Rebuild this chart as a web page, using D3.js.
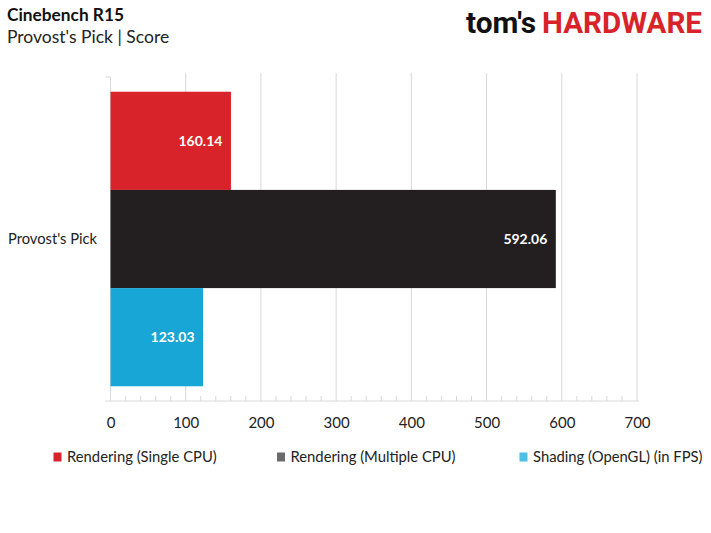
<!DOCTYPE html>
<html>
<head>
<meta charset="utf-8">
<script src="https://cdn.jsdelivr.net/npm/d3@7"></script>
<style>
  body { margin: 0; background: #fff; }
  svg { display: block; font-family: Lato, "Open Sans", sans-serif; }
</style>
</head>
<body>
<div id="chart"></div>
<script>
const categories = ["Provost's Pick"];
const seriesNames = ["Rendering (Single CPU)", "Rendering (Multiple CPU)", "Shading (OpenGL) (in FPS)"];
const seriesValues = [160.14, 592.06, 123.03];
const barColors = ["#d9232a", "#231f20", "#18a6d6"];
const legendColors = ["#d9232a", "#6b6b6b", "#4cbfe6"];
const xTicks = [0, 100, 200, 300, 400, 500, 600, 700];

const W = 711, H = 533;
const m = { left: 110.5, right: 74, top: 77, bottom: 132 };

const svg = d3.select("#chart").append("svg").attr("width", W).attr("height", H);

const x = d3.scaleLinear().domain([0, 700]).range([m.left, W - m.right]);
const yCat = d3.scaleBand().domain(categories).range([m.top, H - m.bottom]).paddingOuter(0.05);
const ySer = d3.scaleBand().domain(seriesNames).range([0, yCat.bandwidth()]);

// gridlines
svg.append("g").selectAll("line").data(xTicks.slice(1)).join("line")
  .attr("x1", (d) => x(d)).attr("x2", (d) => x(d))
  .attr("y1", m.top - 4).attr("y2", H - m.bottom)
  .attr("stroke", "#d9d9d9").attr("stroke-width", 1);

// axis
const axisY = H - m.bottom;
const axis = svg.append("g").attr("transform", `translate(0,${axisY})`)
  .call(d3.axisBottom(x).tickValues(xTicks).tickSize(0).tickPadding(16));
axis.select(".domain").remove();
axis.selectAll("text").attr("font-size", 15).attr("fill", "#222")
  .attr("font-family", "Lato, sans-serif");
svg.append("line").attr("x1", x(0) - 5).attr("x2", x(700) + 2)
  .attr("y1", axisY).attr("y2", axisY).attr("stroke", "#d9d9d9");
svg.append("line").attr("x1", x(0)).attr("x2", x(0))
  .attr("y1", m.top).attr("y2", axisY).attr("stroke", "#d9d9d9");
svg.append("line").attr("x1", x(0) - 5).attr("x2", x(0))
  .attr("y1", m.top).attr("y2", m.top).attr("stroke", "#d9d9d9");
// minor ticks
svg.append("g").selectAll("line").data(d3.range(0, 701, 20).filter((d) => d % 100 !== 0)).join("line")
  .attr("x1", (d) => x(d)).attr("x2", (d) => x(d))
  .attr("y1", axisY - 5).attr("y2", axisY).attr("stroke", "#d9d9d9");

// bars
const g = svg.append("g");
categories.forEach((c) => {
  const gc = g.append("g").attr("transform", `translate(0,${yCat(c)})`);
  gc.selectAll("rect").data(seriesValues).join("rect")
    .attr("x", x(0)).attr("y", (d, i) => ySer(seriesNames[i]))
    .attr("width", (d) => x(d) - x(0)).attr("height", ySer.bandwidth())
    .attr("fill", (d, i) => barColors[i]);
  gc.selectAll("text").data(seriesValues).join("text")
    .attr("x", (d) => x(d) - 8.5).attr("y", (d, i) => ySer(seriesNames[i]) + ySer.bandwidth() / 2)
    .attr("dy", "0.35em").attr("text-anchor", "end")
    .attr("font-size", 14).attr("font-weight", "bold").attr("fill", "#fff")
    .text((d) => d.toFixed(2));
});

// category label
svg.append("g").selectAll("text").data(categories).join("text")
  .attr("x", 8).attr("y", (d) => yCat(d) + yCat.bandwidth() / 2).attr("dy", "0.35em")
  .attr("font-size", 14.7).attr("fill", "#222").text((d) => d);

// legend
const legX = [53.5, 277, 519.5];
const leg = svg.append("g").selectAll("g").data(seriesNames).join("g")
  .attr("transform", (d, i) => `translate(${legX[i]},457)`);
leg.append("rect").attr("x", 0).attr("y", -4.5).attr("width", 8).attr("height", 9)
  .attr("fill", (d, i) => legendColors[i]);
leg.append("text").attr("x", 13.5).attr("dy", "0.35em").attr("font-size", 14.8)
  .attr("fill", "#222").text((d) => d);

// titles
svg.append("text").attr("x", 7).attr("y", 21).attr("font-size", 17.3)
  .attr("font-weight", "bold").attr("fill", "#111").text("Cinebench R15");
svg.append("text").attr("x", 7).attr("y", 43).attr("font-size", 17.5)
  .attr("fill", "#222").text("Provost's Pick | Score");

// logo
const logoFont = "'Liberation Sans Narrow', Roboto, sans-serif";
svg.append("text").attr("x", 466).attr("y", 33).attr("font-size", 29)
  .attr("font-weight", "bold").attr("font-family", logoFont).attr("fill", "#111")
  .attr("textLength", 70).attr("lengthAdjust", "spacingAndGlyphs").text("tom's");
svg.append("text").attr("x", 542).attr("y", 33).attr("font-size", 29)
  .attr("font-weight", "bold").attr("font-family", logoFont).attr("fill", "#d9232a")
  .attr("textLength", 160).attr("lengthAdjust", "spacingAndGlyphs").text("HARDWARE");
</script>
</body>
</html>
